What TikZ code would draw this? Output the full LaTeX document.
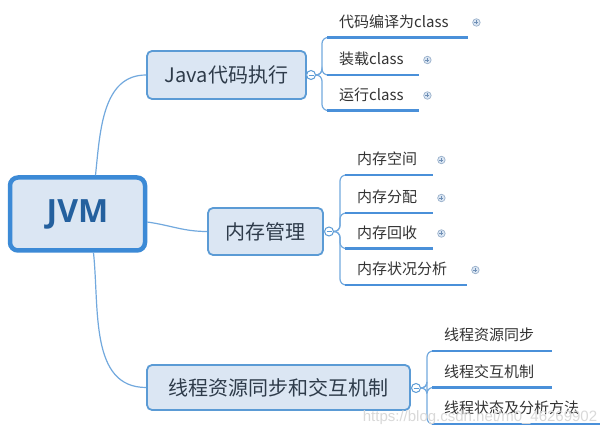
\documentclass[tikz,border=0pt]{standalone}
\usepackage{fontspec}
\setmainfont{Noto Sans CJK SC}
\newfontfamily\jvmfont{Open Sans}
\newfontfamily\markfont{Liberation Sans}
\definecolor{boxfill}{HTML}{DBE6F3}
\definecolor{boxblue}{HTML}{5B9BD5}
\definecolor{rootblue}{HTML}{3C8AD6}
\definecolor{roottext}{HTML}{24609E}
\definecolor{topictext}{HTML}{2E3B4A}
\definecolor{leaftext}{HTML}{333333}
\definecolor{limbblue}{HTML}{72A9DE}
\definecolor{lineblue}{HTML}{4A90D9}
\definecolor{iconblue}{HTML}{6F8FB5}
\begin{document}
\begin{tikzpicture}[
    x=1pt, y=1pt,
    root/.style={rectangle, rounded corners=8pt, draw=rootblue, line width=4.5pt, fill=boxfill,
      minimum width=135pt, minimum height=73pt, inner sep=0pt,
      font=\jvmfont\bfseries\fontsize{32}{36}\selectfont, text=roottext},
    topic/.style={rectangle, rounded corners=5pt, draw=boxblue, line width=1.8pt, fill=boxfill,
      inner sep=0pt, font=\fontsize{20}{24}\selectfont, text=topictext},
    leaf/.style={anchor=south west, inner xsep=12pt, inner ysep=0pt, text height=12pt, text depth=10pt,
      align=left, font=\fontsize{15}{18}\selectfont, text=leaftext},
    fold/.style={circle, draw=boxblue, line width=1pt, fill=white, minimum size=9pt, inner sep=0pt,
      path picture={\draw[boxblue, line width=0.8pt] ([xshift=-2.5pt]path picture bounding box.center)
        -- ([xshift=2.5pt]path picture bounding box.center);}},
    more/.style={circle, draw=iconblue!70, line width=0.7pt, fill=boxfill, minimum size=7.5pt, inner sep=0pt,
      path picture={\draw[iconblue, line width=0.7pt]
        ([xshift=-2pt]path picture bounding box.center) -- ([xshift=2pt]path picture bounding box.center)
        ([yshift=-2pt]path picture bounding box.center) -- ([yshift=2pt]path picture bounding box.center);}},
    limb/.style={draw=limbblue, line width=1.2pt},
    twig/.style={draw=limbblue, line width=1.2pt, rounded corners=6pt},
    underline/.style={draw=lineblue, line width=2.6pt}
]
  \fill[white] (0,0) rectangle (613,-435);
  \useasboundingbox (0,0) rectangle (613,-435);
  % root and the three topics
  \node[root] (jvm) at (77.5,-214) {JVM};
  \node[topic, minimum width=159pt, minimum height=48pt] (java) at (226.5,-75) {Java代码执行};
  \node[topic, minimum width=115pt, minimum height=47pt] (mem) at (265.5,-231.5) {内存管理};
  \node[topic, minimum width=263pt, minimum height=45pt] (thr) at (278.5,-387.5) {线程资源同步和交互机制};
  \draw[limb] ([xshift=18pt]jvm.north) to[out=84,in=180] (java.west);
  \draw[limb] ([yshift=-8pt]jvm.east) to[out=-8,in=180] (mem.west);
  \draw[limb] ([xshift=16pt]jvm.south) to[out=-84,in=180] (thr.west);
  % fold markers
  \node[fold] (jc) at (311,-75) {};
  \node[fold] (mc) at (329,-231.5) {};
  \node[fold] (tc) at (416,-388) {};
  \draw[limb] (java.east) -- (jc.west);
  \draw[limb] (mem.east) -- (mc.west);
  \draw[limb] (thr.east) -- (tc.west);
  % leaves
  \node[leaf, text width=117pt] (j1) at (327,-37.5) {代码编译为class};
  \node[leaf, text width=68pt] (j2) at (327,-75) {装载class};
  \node[leaf, text width=68pt] (j3) at (327,-110.5) {运行class};
  \node[leaf, text width=64pt] (m1) at (345,-175) {内存空间};
  \node[leaf, text width=64pt] (m2) at (345,-213) {内存分配};
  \node[leaf, text width=64pt] (m3) at (345,-248.5) {内存回收};
  \node[leaf, text width=98pt] (m4) at (345,-285) {内存状况分析};
  \node[leaf, text width=96pt] (t1) at (432,-351) {线程资源同步};
  \node[leaf, text width=96pt] (t2) at (432,-387.5) {线程交互机制};
  \node[leaf, text width=144pt] (t3) at (432,-424) {线程状态及分析方法};
  \foreach \c/\l in {jc/j1,jc/j2,jc/j3,mc/m1,mc/m2,mc/m3,mc/m4,tc/t1,tc/t2,tc/t3} {
    \draw[twig] (\c.east) -- ++(6,0) |- (\l.south west);
    \draw[underline] (\l.south west) -- (\l.south east);
  }
  \foreach \l in {j1,j2,j3,m1,m2,m3,m4}
    \node[more] (\l-more) at ([shift={(8pt,15pt)}]\l.south east) {};
  \node[font=\markfont\fontsize{15}{18}\selectfont, text=gray!30] (mark) at (480,-418)
    {https://blog.csdn.net/m0\_46269902};
\end{tikzpicture}
\end{document}
